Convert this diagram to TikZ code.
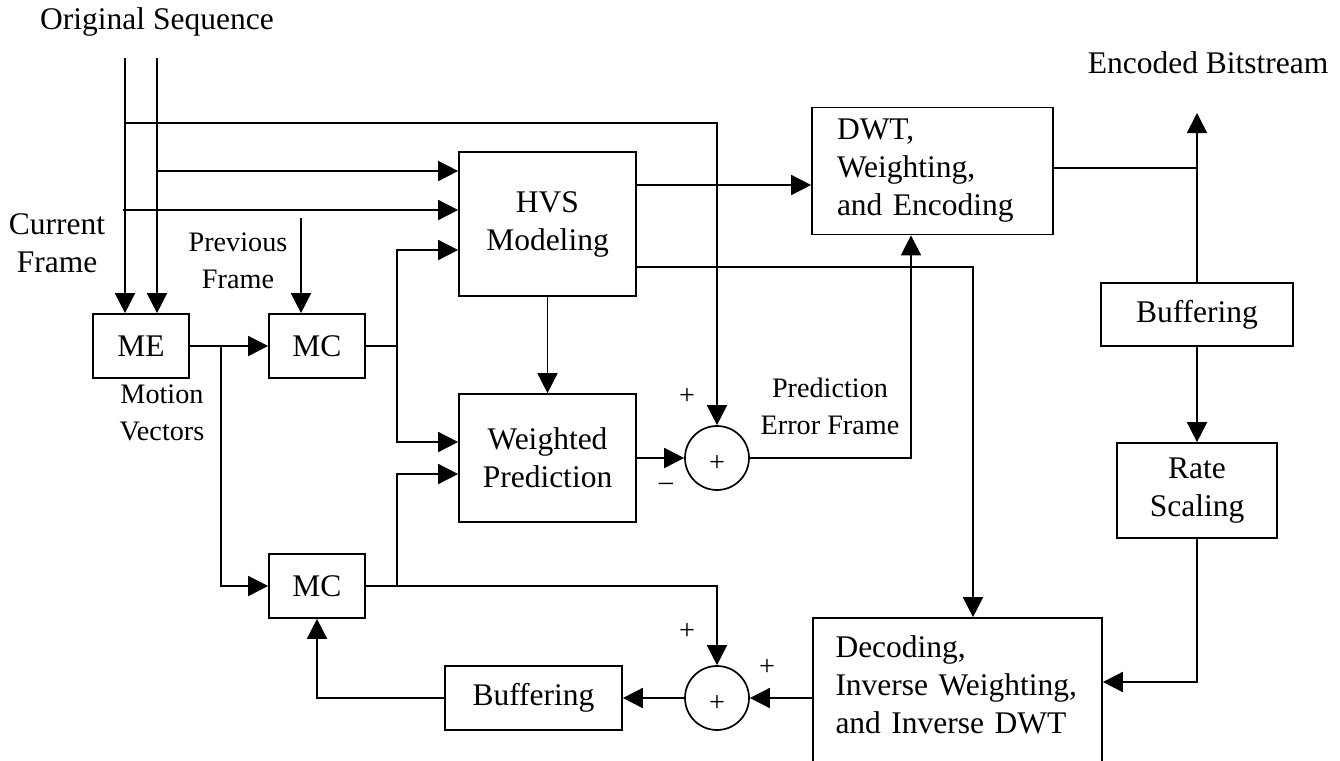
\documentclass[tikz,border=0pt]{standalone}
\usepackage{fontspec}
\setmainfont{Liberation Serif}
\usetikzlibrary{arrows.meta,calc}

\begin{document}
\begin{tikzpicture}[x=0.5pt, y=-0.5pt, line width=0.85pt,
>={Triangle[length=10pt,width=10pt]},
block/.style={rectangle, draw, inner sep=0pt, align=center,
      font=\fontsize{15.75}{19}\selectfont},
summ/.style={circle, draw, minimum size=32pt, inner sep=0pt,
      font=\fontsize{14.1}{16}\selectfont},
txt/.style={inner sep=0pt, align=center, font=\fontsize{15.75}{19}\selectfont},
lbl/.style={inner sep=0pt, align=center, font=\fontsize{14.1}{18.5}\selectfont},]
 \useasboundingbox (0,0) rectangle (1340,761);
 \clip (0,0) rectangle (1340,761);

 \node[block, minimum width=48pt, minimum height=32pt] (me) at (141,346) {ME};
 \node[block, minimum width=48pt, minimum height=32pt] (mc1) at (317,346) {MC};
 \node[block, minimum width=48pt, minimum height=32pt] (mc2) at (317,586) {MC};
 \node[block, minimum width=88.5pt, minimum height=72pt] (hvs) at (547.5,224) {HVS\\Modeling};
 \node[block, minimum width=88.5pt, minimum height=64pt] (wp) at (547.5,458) {Weighted\\Prediction};
 \node[summ] (sum1) at (717,458) {\raisebox{-6.5pt}[0pt][0pt]{+}};
 \node[block, align=left, text width=95.5pt, inner xsep=12.5pt, minimum height=63.5pt] (dwt) at (932.5,171) {DWT,\\Weighting,\\and Encoding};
 \node[block, minimum width=96pt, minimum height=31.5pt] (buf1) at (1197,314.5) {Buffering};
 \node[block, minimum width=80pt, minimum height=47.5pt] (rate) at (1197,490.5) {Rate\\Scaling};
 \node[block, align=left, text width=122pt, inner xsep=11.25pt, minimum height=76pt] (dec) at (957.5,694) {Decoding,\\Inverse Weighting,\\and Inverse DWT\\[-10pt]\mbox{}};
 \node[summ] (sum2) at (717,698) {\raisebox{-6.5pt}[0pt][0pt]{+}};
 \node[block, minimum width=88.5pt, minimum height=32pt] (buf2) at (533.5,698) {Buffering};

 \node[txt] (orig) at (157,22) {Original Sequence};
 \node[txt, anchor=west] (enc) at (1087,63) {Encoded Bitstream};
 \node[txt] (cur) at (57,243) {Current\\Frame};
 \node[lbl] (prevtxt) at (238,261) {Previous\\Frame};
 \node[lbl] (mv) at (162,413) {Motion\\Vectors};
 \node[lbl] (pef) at (830,406) {Prediction\\Error Frame};
 \node[lbl] (p1) at (687,397) {+};
 \node[lbl] (m1) at (666,487) {\textendash};
 \node[lbl] (p2) at (687,632) {+};
 \node[lbl] (p3) at (767,668) {+};

 \coordinate (seq1) at (125,58);
 \coordinate (seq2) at (157,58);
 \coordinate (j1) at (125,123);
 \coordinate (j2) at (157,171);
 \coordinate (j3) at (123,210);
 \coordinate (prev) at (301,218);
 \coordinate (j4) at (221,346);
 \coordinate (j5) at (397,346);
 \coordinate (j6) at (397,586);
 \coordinate (bits) at (1197,113);

 % original sequence and frames
 \draw[->] (seq1) -- (seq1 |- me.north);
 \draw[->] (seq2) -- (seq2 |- me.north);
 \draw[->] (j1) -| (sum1.north);
 \draw[->] (j2) -- (j2 -| hvs.west);
 \draw[->] (j3) -- (j3 -| hvs.west);
 \draw[->] (prev) -- (prev |- mc1.north);

 % motion estimation / compensation
 \draw[->] (me) -- (mc1);
 \draw[->] (j4) |- (mc2);
 \draw (mc1) -- (j5);
 \draw[->] (j5) |- ($(hvs.west)+(0,26)$);
 \draw[->] (j5) |- ($(wp.west)+(0,-16)$);
 \draw[->] (mc2) -| (sum2.north);
 \draw[->] (j6) |- ($(wp.west)+(0,16)$);

 % prediction and encoding
 \draw[->] (hvs) -- (wp);
 \draw[->] ($(hvs.east)+(0,-39)$) -- ($(dwt.west)+(0,14)$);
 \draw[->] ($(hvs.east)+(0,43)$) -| ($(dec.north)+(15.5,0)$);
 \draw[->] (wp) -- (sum1);
 \draw[->] (sum1) -| ($(dwt.south)+(-21.5,0)$);
 \draw ($(dwt.east)+(0,-3)$) -- ($(dwt.east -| buf1.north)+(0,-3)$);
 \draw[->] (buf1) -- (bits);
 \draw[->] (buf1) -- (rate);
 \draw[->] (rate) |- ($(dec.east)+(0,-12)$);

 % reconstruction loop
 \draw[->] (dec.west |- sum2.east) -- (sum2);
 \draw[->] (sum2) -- (buf2);
 \draw[->] (buf2) -| (mc2);

\end{tikzpicture}
\end{document}
